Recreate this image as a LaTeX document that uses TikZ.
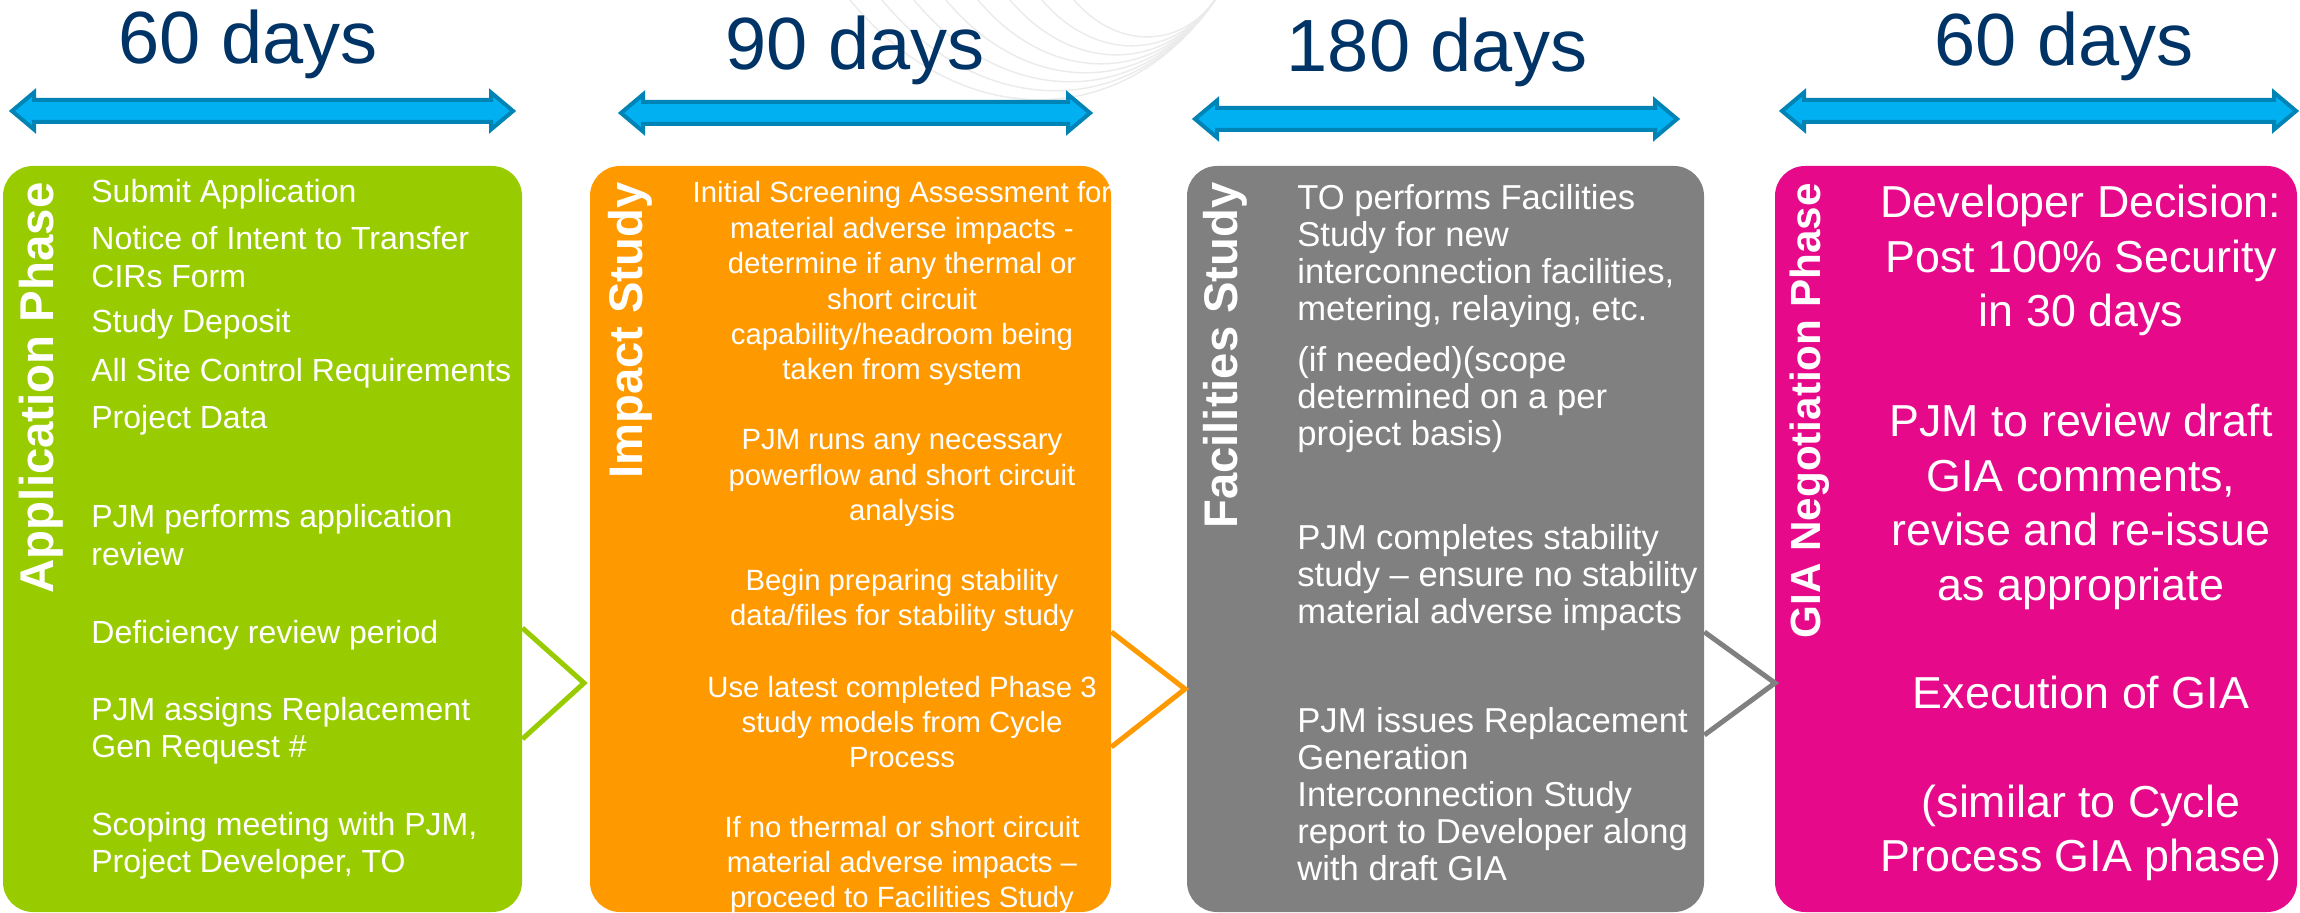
\documentclass[tikz,border=0pt]{standalone}
\usepackage{fontspec}
\setmainfont{Liberation Sans}
\definecolor{appgreen}{HTML}{99CC00}
\definecolor{imporange}{HTML}{FF9900}
\definecolor{facgray}{HTML}{808080}
\definecolor{giapink}{HTML}{E6098A}
\definecolor{titlenavy}{HTML}{003366}
\definecolor{arrfill}{HTML}{00B0F0}
\definecolor{arrline}{HTML}{0083B5}
\definecolor{arcgray}{HTML}{EBEBEB}
\newcommand{\mylines}[2]{\begin{tabular}[t]{@{}#1@{}}#2\end{tabular}}
\newcommand{\DblArrowShape}[3]{%
  \draw[dblarr] (#1,#3) -- ({#1+22},{#3-18.5}) -- ({#1+22},{#3-11}) -- ({#2-22},{#3-11})
    -- ({#2-22},{#3-18.5}) -- (#2,#3) -- ({#2-22},{#3+18.5}) -- ({#2-22},{#3+11})
    -- ({#1+22},{#3+11}) -- ({#1+22},{#3+18.5}) -- cycle;}
\begin{document}
\begin{tikzpicture}[x=0.5pt,y=-0.5pt,
  phasebox/.style={rounded corners=15pt, minimum height=373pt, inner sep=0pt, draw=none},
  chev/.style={line width=2.5pt, line join=miter},
  dblarr/.style={fill=arrfill, draw=arrline, line width=2pt, line join=miter},
  arcline/.style={draw=arcgray, line width=0.7pt},
  daytitle/.style={font=\fontsize{37}{44}\selectfont, text=titlenavy, anchor=base, inner sep=0pt},
  rottitle/.style={rotate=90, anchor=base east, inner sep=0pt, text=white},
  gtxt/.style={font=\fontsize{16}{18.75}\selectfont, text=white, anchor=base west, inner sep=0pt},
  otxt/.style={font=\fontsize{14.65}{17.7}\selectfont, text=white, anchor=base, inner sep=0pt},
  ftxt/.style={font=\fontsize{17.3}{18.5}\selectfont, text=white, anchor=base west, inner sep=0pt},
  ptxt/.style={font=\fontsize{22.4}{27.25}\selectfont, text=white, anchor=base, inner sep=0pt}]
\useasboundingbox (0,0) rectangle (2300,913);
\fill[white] (0,0) rectangle (2300,913);

% faint background arcs
\foreach \i in {0,...,7} {
  \pgfmathsetmacro\s{850+32*\i}
  \pgfmathsetmacro\d{100-9*\i}
  \draw[arcline] (\s,0) .. controls ({\s+(1215-\s)*0.3},{\d*1.33}) and ({\s+(1215-\s)*0.75},{\d*1.33}) .. (1215,0);
}

% day titles
\node[daytitle] (t1) at (248,64) {60 days};
\node[daytitle] (t2) at (855,70) {90 days};
\node[daytitle] (t3) at (1437,72) {180 days};
\node[daytitle] (t4) at (2064,66) {60 days};

% double arrows
\DblArrowShape{12}{513}{111}
\DblArrowShape{621}{1090}{113}
\DblArrowShape{1195}{1677}{119}
\DblArrowShape{1782}{2296}{111}

% phase boxes
\node[phasebox, fill=appgreen, minimum width=259.5pt] (app) at (262.5,539) {};
\node[phasebox, fill=imporange, minimum width=260.5pt] (imp) at (850.5,539) {};
\node[phasebox, fill=facgray, minimum width=258.5pt] (fac) at (1445.5,539) {};
\node[phasebox, fill=giapink, minimum width=261pt] (gia) at (2036,539) {};

% chevron connectors
\coordinate (tip1) at (584,683);
\coordinate (tip2) at (1185,689);
\coordinate (tip3) at (1775,683);
\draw[chev, draw=appgreen] (app.east |- 0,628) -- (tip1) -- (app.east |- 0,739);
\draw[chev, draw=imporange] (imp.east |- 0,632) -- (tip2) -- (imp.east |- 0,747);
\draw[chev, draw=facgray] (fac.east |- 0,632) -- (tip3) -- (fac.east |- 0,735);

% rotated phase titles
\node[rottitle, font=\bfseries\fontsize{23.7}{28}\selectfont] (tapp) at (54,182) {Application Phase};
\node[rottitle, font=\bfseries\fontsize{23.6}{28}\selectfont] (timp) at (642,182) {Impact Study};
\node[rottitle, font=\bfseries\fontsize{23.6}{28}\selectfont] (tfac) at (1237,182) {Facilities Study};
\node[rottitle, font=\bfseries\fontsize{21.1}{25}\selectfont] (tgia) at (1820,183) {GIA Negotiation Phase};

% application phase text
\node[gtxt] (g1) at (91,203) {Submit Application};
\node[gtxt] (g2) at (91,250) {\mylines{l}{Notice of Intent to Transfer\\CIRs Form}};
\node[gtxt] (g3) at (91,333) {Study Deposit};
\node[gtxt] (g4) at (91,382) {All Site Control Requirements};
\node[gtxt] (g5) at (91,429) {Project Data};
\node[gtxt] (g6) at (91,528) {\mylines{l}{PJM performs application\\review}};
\node[gtxt] (g7) at (91,643) {Deficiency review period};
\node[gtxt] (g8) at (91,720) {\mylines{l}{PJM assigns Replacement\\Gen Request \#}};
\node[gtxt] (g9) at (91,835) {\mylines{l}{Scoping meeting with PJM,\\Project Developer, TO}};

% impact study text
\node[otxt] (o1) at (902,203) {\mylines{c}{Initial Screening Assessment for\\material adverse impacts -\\determine if any thermal or\\short circuit\\capability/headroom being\\taken from system}};
\node[otxt] (o2) at (902,450) {\mylines{c}{PJM runs any necessary\\powerflow and short circuit\\analysis}};
\node[otxt] (o3) at (902,590) {\mylines{c}{Begin preparing stability\\data/files for stability study}};
\node[otxt] (o4) at (902,697) {\mylines{c}{Use latest completed Phase 3\\study models from Cycle\\Process}};
\node[otxt] (o5) at (902,837) {\mylines{c}{If no thermal or short circuit\\material adverse impacts –\\proceed to Facilities Study}};

% facilities study text
\node[ftxt] (f1) at (1297,210) {\mylines{l}{TO performs Facilities\\Study for new\\interconnection facilities,\\metering, relaying, etc.}};
\node[ftxt] (f2) at (1297,372) {\mylines{l}{(if needed)(scope\\determined on a per\\project basis)}};
\node[ftxt] (f3) at (1297,550) {\mylines{l}{PJM completes stability\\study – ensure no stability\\material adverse impacts}};
\node[ftxt] (f4) at (1297,732) {\mylines{l}{PJM issues Replacement\\Generation\\Interconnection Study\\report to Developer along\\with draft GIA}};

% GIA negotiation text
\node[ptxt] (p1) at (2081,218) {\mylines{c}{Developer Decision:\\Post 100\% Security\\in 30 days}};
\node[ptxt] (p2) at (2081,437) {\mylines{c}{PJM to review draft\\GIA comments,\\revise and re-issue\\as appropriate}};
\node[ptxt] (p3) at (2081,708) {Execution of GIA};
\node[ptxt] (p4) at (2081,817) {\mylines{c}{(similar to Cycle\\Process GIA phase)}};
\end{tikzpicture}
\end{document}
